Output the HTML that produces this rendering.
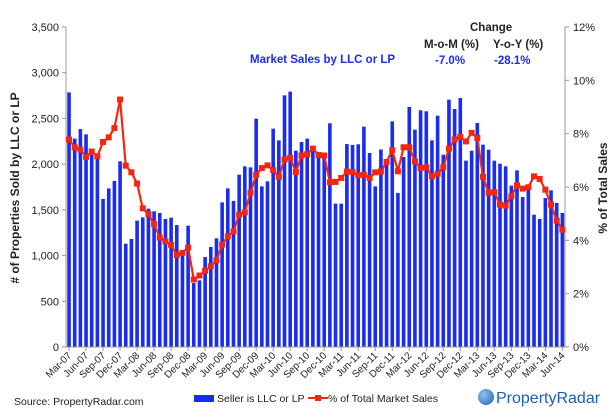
<!DOCTYPE html>
<html><head><meta charset="utf-8"><style>
body{margin:0;background:#fff;font-family:"Liberation Sans",sans-serif}
svg{display:block}
</style></head><body>
<svg width="614" height="417" viewBox="0 0 614 417" id="c" font-family="Liberation Sans, sans-serif"></svg>
<script>
const bars=[2785,2279,2384,2326,2104,2085,1619,1735,1816,2031,1130,1181,1382,1418,1513,1484,1466,1400,1415,1334,1010,1327,700,729,984,1094,1189,1582,1735,1598,1885,1976,1965,2497,1757,1812,2388,2260,2752,2793,2147,2242,2279,2157,2122,2104,2447,1568,1568,2220,2210,2217,2410,2122,1757,2160,2013,2468,1685,2078,2625,2377,2589,2578,2260,2530,2104,2705,2603,2723,2038,2147,2450,2213,2158,2038,2005,1976,1765,1932,1640,1720,1447,1400,1630,1714,1575,1466];
const pct=[7.78,7.49,7.4,7.13,7.33,7.15,7.69,7.86,8.21,9.28,6.8,6.55,6.13,5.2,4.98,4.61,4.1,3.96,3.83,3.45,3.53,3.73,2.53,2.68,2.86,3.03,3.25,3.84,4.15,4.33,4.96,5.05,5.78,6.46,6.71,6.81,6.63,6.38,7.03,7.1,6.56,7.18,7.23,7.44,7.2,7.18,6.18,6.19,6.34,6.58,6.56,6.44,6.46,6.34,6.55,6.58,6.94,7.38,6.59,7.49,7.49,6.96,6.71,6.74,6.4,6.5,6.74,7.44,7.78,7.88,7.71,8.03,7.84,6.38,5.78,5.81,5.34,5.3,5.65,6.06,5.94,5.99,6.4,6.3,5.9,5.34,4.74,4.4];
const leftTicks=[0,500,1000,1500,2000,2500,3000,3500];
const rightTicks=[0,2,4,6,8,10,12];
const months=["Mar","Apr","May","Jun","Jul","Aug","Sep","Oct","Nov","Dec","Jan","Feb"];
const svg=document.getElementById('c');
const NS="http://www.w3.org/2000/svg";
function el(t,a,p){const e=document.createElementNS(NS,t);for(const k in a)e.setAttribute(k,a[k]);(p||svg).appendChild(e);return e;}
const x0=66,x1=565,yTop=27,yBot=347;
const step=(x1-x0)/bars.length;
const xc=i=>x0+step*(i+0.5)+0.2;
const yL=v=>yBot-(v/3500)*(yBot-yTop);
const yR=v=>yBot-(v/12)*(yBot-yTop);
// bars
bars.forEach((v,i)=>{const r=el('rect',{x:xc(i)-1.8,y:yL(v),width:3.6,height:yBot-yL(v),fill:'#1a2cf0'});
});
// axes
let a=el('line',{x1:x0,y1:yTop,x2:x0,y2:yBot,stroke:'#999'});
a=el('line',{x1:x1,y1:yTop,x2:x1,y2:yBot,stroke:'#999'});
a=el('line',{x1:x0,y1:yBot,x2:x1,y2:yBot,stroke:'#999'});
leftTicks.forEach(v=>{const y=yL(v);el('line',{x1:x0-4,y1:y,x2:x0,y2:y,stroke:'#999'});
const t=el('text',{x:x0-7,y:y+4,'text-anchor':'end','font-size':11,fill:'#222'});t.textContent=v.toLocaleString('en-US');
});
rightTicks.forEach(v=>{const y=yR(v);el('line',{x1:x1,y1:y,x2:x1+4,y2:y,stroke:'#999'});
const t=el('text',{x:x1+8,y:y+4,'font-size':11,fill:'#222'});t.textContent=v+'%';
});
// x labels
for(let i=0;i<bars.length;i+=3){const x=xc(i);el('line',{x1:x,y1:yBot,x2:x,y2:yBot+4,stroke:'#999'});
const yr=7+Math.floor((i+2)/12);const lab=months[i%12]+'-'+String(yr).padStart(2,'0');
const t=el('text',{x:x+3,y:yBot+9,'text-anchor':'end','font-size':10,fill:'#222',transform:`rotate(-45 ${x+3} ${yBot+9})`});t.textContent=lab;
}
// line
const pts=pct.map((v,i)=>xc(i)+','+yR(v)).join(' ');
const pl=el('polyline',{points:pts,fill:'none',stroke:'#f5260f','stroke-width':2.2});

pct.forEach((v,i)=>{const m=el('rect',{x:xc(i)-3,y:yR(v)-3,width:6,height:6,fill:'#f5260f'});
});
</script>
<div style="position:absolute;left:0;top:0;width:614px;height:417px;pointer-events:none;font-family:'Liberation Sans',sans-serif">
<div style="position:absolute;left:250px;top:54px;color:#1a2cf0;font-size:11.5px;font-weight:bold">Market Sales by LLC or LP</div>
<div style="position:absolute;left:470px;top:22px;font-size:11.5px;font-weight:bold;color:#222">Change</div>
<div style="position:absolute;left:424px;top:39px;font-size:11.5px;font-weight:bold;color:#222">M-o-M (%)</div>
<div style="position:absolute;left:493px;top:39px;font-size:11.5px;font-weight:bold;color:#222">Y-o-Y (%)</div>
<div style="position:absolute;left:435px;top:55px;font-size:11.5px;font-weight:bold;color:#1a2cf0">-7.0%</div>
<div style="position:absolute;left:494px;top:55px;font-size:11.5px;font-weight:bold;color:#1a2cf0">-28.1%</div>
<div style="position:absolute;left:15px;top:188px;transform:translate(-50%,-50%) rotate(-90deg);white-space:nowrap;font-size:12px;font-weight:bold;color:#222">&#35; of Properties Sold by LLC or LP</div>
<div style="position:absolute;left:603px;top:188px;transform:translate(-50%,-50%) rotate(-90deg);white-space:nowrap;font-size:12px;font-weight:bold;color:#222">% of Total Sales</div>
<div style="position:absolute;left:14px;top:396px;font-size:10.5px;color:#222">Source: PropertyRadar.com</div>
<div style="position:absolute;left:194px;top:393px;font-size:10.5px;color:#222"><span style="display:inline-block;width:20px;height:7px;background:#1a2cf0;margin-right:3px"></span>Seller is LLC or LP</div>
<div style="position:absolute;left:308px;top:393px;font-size:10.5px;color:#222"><span style="display:inline-block;position:relative;width:20px;height:7px;vertical-align:0"><span style="position:absolute;left:0;top:2px;width:20px;height:2px;background:#f5260f"></span><span style="position:absolute;left:7px;top:0;width:6px;height:6px;background:#f5260f"></span></span>% of Total Market Sales</div>
<div style="position:absolute;left:478px;top:389px;font-size:16px;color:#1c5fae;white-space:nowrap"><span style="display:inline-block;width:16px;height:16px;border-radius:50%;background:radial-gradient(circle at 35% 35%,#8fc3ef,#1c5fae);vertical-align:-2px;margin-right:2px"></span>PropertyRadar</div>
</div>
</body></html>
